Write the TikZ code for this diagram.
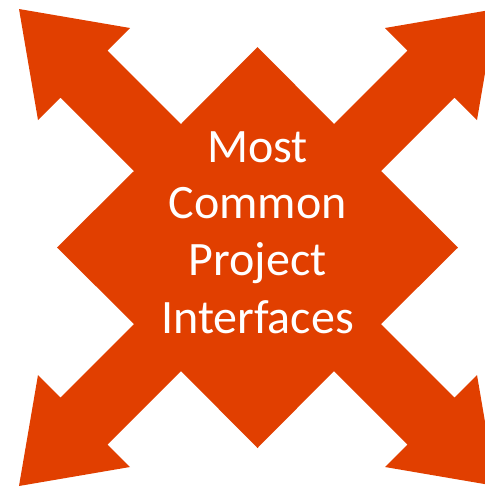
\documentclass[tikz,border=0pt]{standalone}
\usepackage{fontspec}
\setmainfont{Carlito}
\definecolor{arroworange}{HTML}{E13F00}
\begin{document}
\begin{tikzpicture}[x=1pt,y=-1pt,
  label/.style={text=white,inner sep=0pt,anchor=base,font=\fontsize{48}{57}\selectfont}]
\clip (0,0) rectangle (485,488);
\useasboundingbox (0,0) rectangle (485,488);
\begin{scope}[shift={(257.5,247.5)}]
\fill[arroworange]
  (0,-200.5) -- (76.5,-123.5) -- (150,-197) -- (127.5,-219.5) -- (238.5,-238.5)
  -- (219.5,-127.5) -- (197,-150) -- (123.5,-76.5) -- (200.5,0)
  -- (123.5,76.5) -- (197,150) -- (219.5,127.5) -- (238.5,238.5)
  -- (127.5,219.5) -- (150,197) -- (76.5,123.5) -- (0,200.5)
  -- (-76.5,123.5) -- (-150,197) -- (-127.5,219.5) -- (-238.5,238.5)
  -- (-219.5,127.5) -- (-197,150) -- (-123.5,76.5) -- (-200.5,0)
  -- (-123.5,-76.5) -- (-197,-150) -- (-219.5,-127.5) -- (-238.5,-238.5)
  -- (-127.5,-219.5) -- (-150,-197) -- (-76.5,-123.5) -- cycle;
\end{scope}
\node[label] (l1) at (257.5,162) {Most};
\node[label] (l2) at (257.5,218) {Common};
\node[label] (l3) at (257.5,275) {Project};
\node[label] (l4) at (257.5,333) {Interfaces};
\end{tikzpicture}
\end{document}
